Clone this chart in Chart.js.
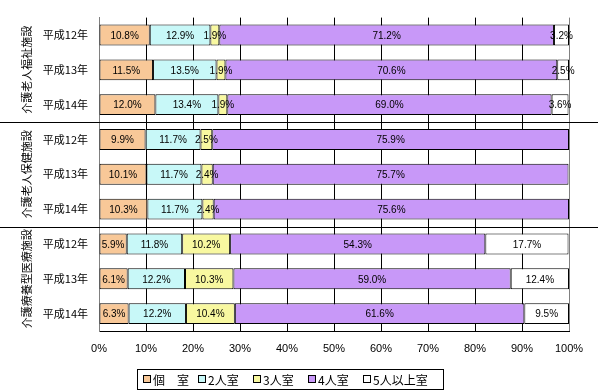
<!DOCTYPE html>
<html>
<head>
<meta charset="utf-8">
<script src="https://cdn.jsdelivr.net/npm/chart.js@4"></script>
<style>
  body { margin: 0; background: #fff; }
  #wrap { width: 598px; height: 390px; position: relative; }
</style>
</head>
<body>
<div id="wrap"><canvas id="roomChart"></canvas></div>
<script>
// data
var years = ['平成12年', '平成13年', '平成14年', '平成12年', '平成13年', '平成14年', '平成12年', '平成13年', '平成14年'];
var facilities = ['介護老人福祉施設', '介護老人保健施設', '介護療養型医療施設'];
var roomTypes = ['個　室', '2人室', '3人室', '4人室', '5人以上室'];
var private1 = [10.8, 11.5, 12.0, 9.9, 10.1, 10.3, 5.9, 6.1, 6.3];
var room2 = [12.9, 13.5, 13.4, 11.7, 11.7, 11.7, 11.8, 12.2, 12.2];
var room3 = [1.9, 1.9, 1.9, 2.5, 2.4, 2.4, 10.2, 10.3, 10.4];
var room4 = [71.2, 70.6, 69.0, 75.9, 75.7, 75.6, 54.3, 59.0, 61.6];
var room5 = [3.2, 2.5, 3.6, 0, 0, 0, 17.7, 12.4, 9.5];
var xTicks = [0, 10, 20, 30, 40, 50, 60, 70, 80, 90, 100];

var colors = ['#F8C898', '#C8F8F8', '#F8F8A0', '#C898F8', '#FFFFFF'];
var jpFont = '"Noto Sans CJK JP", sans-serif';

// value labels inside each bar segment
var barLabels = {
    id: 'barLabels',
    afterDatasetsDraw: function (chart) {
        var ctx = chart.ctx;
        ctx.save();
        ctx.font = '10px "Liberation Sans", Arial, sans-serif';
        ctx.fillStyle = '#000';
        ctx.textAlign = 'center';
        ctx.textBaseline = 'middle';
        chart.data.datasets.forEach(function (ds, i) {
            chart.getDatasetMeta(i).data.forEach(function (bar, j) {
                var v = ds.data[j];
                if (!v) return;
                var cx = (bar.x + bar.base) / 2;
                ctx.fillText(v.toFixed(1) + '%', cx, bar.y + 1);
            });
        });
        ctx.restore();
    }
};

// group separators, vertical facility names and legend box
var groups = {
    id: 'groups',
    afterDraw: function (chart) {
        var ctx = chart.ctx;
        var y = chart.scales.y;
        ctx.save();
        ctx.strokeStyle = '#000';
        ctx.lineWidth = 1;
        [2, 5].forEach(function (k) {
            var yy = Math.round((y.getPixelForValue(k) + y.getPixelForValue(k + 1)) / 2) + 0.5;
            ctx.beginPath();
            ctx.moveTo(0, yy);
            ctx.lineTo(chart.width, yy);
            ctx.stroke();
        });
        ctx.font = '11px ' + jpFont;
        ctx.fillStyle = '#000';
        ctx.textAlign = 'center';
        ctx.textBaseline = 'middle';
        facilities.forEach(function (name, g) {
            var cy = y.getPixelForValue(g * 3 + 1);
            ctx.save();
            ctx.translate(27, cy);
            ctx.rotate(-Math.PI / 2);
            ctx.fillText(name, 0, 0);
            ctx.restore();
        });

        // legend
        var boxX = 137, boxY = 369, boxW = 306, boxH = 20;
        ctx.strokeRect(boxX + 0.5, boxY + 0.5, boxW, boxH);
        var itemX = [143, 198, 253, 308, 363];
        ctx.font = '12px ' + jpFont;
        ctx.textAlign = 'left';
        roomTypes.forEach(function (label, i) {
            var sx = itemX[i], sy = boxY + 6;
            ctx.fillStyle = colors[i];
            ctx.fillRect(sx, sy, 8, 8);
            ctx.strokeRect(sx + 0.5, sy + 0.5, 7, 7);
            ctx.fillStyle = '#000';
            ctx.fillText(label, sx + 10, boxY + 11);
        });
        ctx.restore();
    }
};

var series = [private1, room2, room3, room4, room5];
var ctx = document.getElementById('roomChart').getContext('2d');
var roomChart = new Chart(ctx, {
    type: 'bar',
    data: {
        labels: years,
        datasets: series.map(function (d, i) {
            return {
                label: roomTypes[i],
                data: d,
                backgroundColor: colors[i],
                borderColor: '#000',
                borderWidth: 1,
                borderSkipped: false,
                barPercentage: 0.6,
                categoryPercentage: 1.0
            };
        })
    },
    options: {
        indexAxis: 'y',
        responsive: true,
        maintainAspectRatio: false,
        animation: false,
        layout: { padding: { top: 0, right: 29, left: 0, bottom: 0 } },
        plugins: {
            legend: { display: false },
            tooltip: { enabled: false }
        },
        scales: {
            x: {
                stacked: true,
                min: 0,
                max: 100,
                afterBuildTicks: function (scale) {
                    scale.ticks = xTicks.map(function (v) { return { value: v }; });
                },
                afterFit: function (scale) { scale.height = 59; },
                grid: {
                    drawTicks: false,
                    color: function (c) {
                        return (c.tick && (c.tick.value === 0 || c.tick.value === 100)) ? '#808080' : '#000';
                    }
                },
                border: { color: '#000' },
                ticks: {
                    padding: 11,
                    color: '#000',
                    font: { family: '"Liberation Sans", Arial, sans-serif', size: 11 },
                    callback: function (v) { return v + '%'; }
                }
            },
            y: {
                stacked: true,
                afterFit: function (scale) { scale.width = 99; },
                grid: { display: false, drawTicks: false },
                border: { color: '#808080' },
                ticks: {
                    padding: 11,
                    color: '#000',
                    font: { family: '"Noto Sans CJK JP", sans-serif', size: 11 }
                }
            }
        }
    },
    plugins: [barLabels, groups]
});
</script>
</body>
</html>
